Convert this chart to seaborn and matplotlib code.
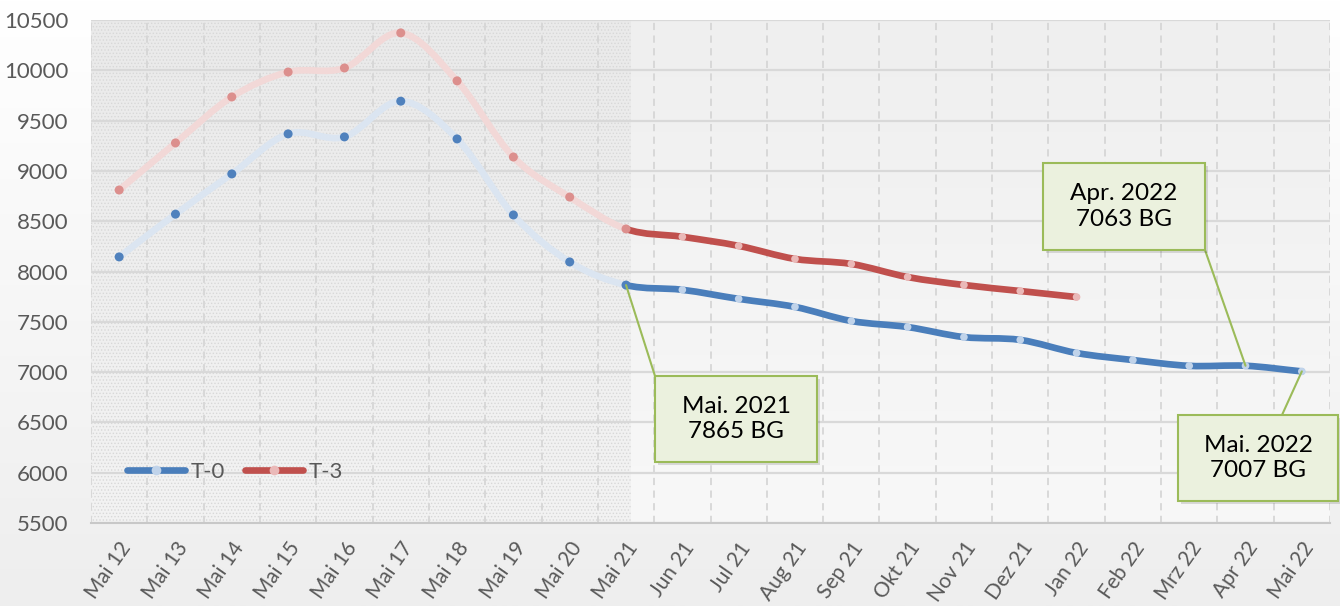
import numpy as np
import pandas as pd
import matplotlib
matplotlib.use("Agg")
import matplotlib.pyplot as plt
import seaborn as sns
from matplotlib.path import Path
from matplotlib.patches import PathPatch, Rectangle
from matplotlib.lines import Line2D
from matplotlib.colors import LinearSegmentedColormap

# --- Data ---
months = ["Mai 12", "Mai 13", "Mai 14", "Mai 15", "Mai 16", "Mai 17", "Mai 18",
          "Mai 19", "Mai 20", "Mai 21", "Jun 21", "Jul 21", "Aug 21", "Sep 21",
          "Okt 21", "Nov 21", "Dez 21", "Jan 22", "Feb 22", "Mrz 22", "Apr 22", "Mai 22"]
t0 = [8145, 8570, 8970, 9368, 9338, 9693, 9318, 8562, 8095, 7865, 7818, 7728,
      7648, 7508, 7448, 7348, 7320, 7190, 7120, 7062, 7063, 7007]
t3 = [8810, 9278, 9735, 9983, 10023, 10372, 9895, 9138, 8740, 8423, 8345, 8255,
      8125, 8075, 7945, 7866, 7806, 7746]
split_idx = 9  # Mai 21: history before, monthly values after

callouts = [("Mai. 2021\n7865 BG", 9, 7865),
            ("Apr. 2022\n7063 BG", 20, 7063),
            ("Mai. 2022\n7007 BG", 21, 7007)]

W, H = 1340, 606


def px(x, y):
    # figure pixel (from top-left) -> figure fraction
    return x / W, 1 - y / H


def smooth_segments(ys):
    # Catmull-Rom style bezier segments through the data points
    pts = np.column_stack([np.arange(len(ys)), ys]).astype(float)
    tang = np.zeros_like(pts)
    tang[1:-1] = (pts[2:] - pts[:-2]) / 2
    tang[0] = pts[1] - pts[0]
    tang[-1] = pts[-1] - pts[-2]
    return [[pts[i], pts[i] + tang[i] / 3, pts[i + 1] - tang[i + 1] / 3, pts[i + 1]]
            for i in range(len(pts) - 1)]


def to_path(segs):
    verts = [segs[0][0]]
    codes = [Path.MOVETO]
    for s in segs:
        verts += [s[1], s[2], s[3]]
        codes += [Path.CURVE4] * 3
    return Path(verts, codes)


sns.set_theme(style="white")
plt.rcParams['font.family'] = ['Lato', 'DejaVu Sans']
plt.rcParams['hatch.linewidth'] = 0.6

fig = plt.figure(figsize=(W / 100, H / 100), dpi=100)

# --- figure background gradient ---
grad = np.linspace(0, 1, 256).reshape(-1, 1)
bg = fig.add_axes([0, 0, 1, 1], zorder=-10)
bg.imshow(grad, aspect='auto', origin='upper', extent=[0, 1, 0, 1],
          cmap=LinearSegmentedColormap.from_list('bg', ['#ffffff', '#eeeeee']))
bg.axis('off')

l, b = px(91, 523)
r, t = px(1330, 20)
ax = fig.add_axes([l, b, r - l, t - b])
ax.set_facecolor('none')

# plot area gradient
ax.imshow(grad, aspect='auto', origin='upper', extent=[0, 1, 0, 1], transform=ax.transAxes,
          cmap=LinearSegmentedColormap.from_list('pa', ['#efefef', '#f8f8f8']), zorder=0)

# shaded history area with dotted texture
ax.axvspan(-0.5, split_idx + 0.09, facecolor='#000000', alpha=0.02, lw=0, zorder=0.5)
ax.axvspan(-0.5, split_idx + 0.09, facecolor='none', edgecolor='#d8d8d8', hatch='.....',
           lw=0, zorder=0.6)

# --- lines ---
series = [(t0, '#dbe5f1', '#4a7ebb', '#4f81bd', '#c0d3ea'),
          (t3, '#f2d8d7', '#c0504d', '#dc8f8d', '#eab9b8')]
for vals, pale, strong, mk_old, mk_new in series:
    segs = smooth_segments(vals)
    ax.add_patch(PathPatch(to_path(segs[:split_idx]), fill=False, edgecolor=pale, lw=4.8,
                           capstyle='round', joinstyle='round', zorder=3))
    ax.add_patch(PathPatch(to_path(segs[split_idx:]), fill=False, edgecolor=strong, lw=4.8,
                           capstyle='round', joinstyle='round', zorder=4))
    old = pd.DataFrame({'x': range(split_idx + 1), 'y': vals[:split_idx + 1]})
    new = pd.DataFrame({'x': range(split_idx + 1, len(vals)), 'y': vals[split_idx + 1:]})
    sns.scatterplot(data=old, x='x', y='y', color=mk_old, s=42, edgecolor='none', ax=ax, zorder=5)
    sns.scatterplot(data=new, x='x', y='y', color=mk_new, s=30, edgecolor='none', ax=ax, zorder=5)

# --- axes ---
ax.set_xlim(-0.5, len(months) - 0.5)
ax.set_ylim(5500, 10500)
ax.set_yticks(range(5500, 10501, 500))
ax.set_xticks(range(len(months)))
ax.set_xticklabels(months, rotation=55, ha='right', rotation_mode='anchor')
ax.set_xticks(np.arange(-0.5, len(months), 1), minor=True)
ax.set_xlabel('')
ax.set_ylabel('')
ax.tick_params(axis='y', length=0, pad=16, labelsize=16, labelcolor='#595959')
ax.tick_params(axis='x', which='major', length=0, pad=11, labelsize=15, labelcolor='#595959')
ax.tick_params(axis='x', which='minor', length=7, width=1.2, color='#c8c8c8', direction='out')
ax.yaxis.grid(True, color='#d9d9d9', lw=1.6, zorder=1)
ax.xaxis.grid(True, which='minor', color='#d6d6d6', lw=1.3, ls=(0, (4, 3)), zorder=1)
ax.set_axisbelow(True)
for side in ['top', 'left', 'right']:
    ax.spines[side].set_visible(False)
ax.spines['bottom'].set_color('#c8c8c8')
ax.spines['bottom'].set_linewidth(1.5)

# --- legend ---
handles = [Line2D([], [], color='#4a7ebb', lw=4.8, marker='o', markersize=7,
                  markerfacecolor='#c0d3ea', markeredgecolor='none'),
           Line2D([], [], color='#c0504d', lw=4.8, marker='o', markersize=7,
                  markerfacecolor='#eab9b8', markeredgecolor='none')]
ax.legend(handles, ['T-0', 'T-3'], loc='center left', bbox_to_anchor=(0.013, 0.101),
          ncol=2, frameon=False, fontsize=16, labelcolor='#595959', handlelength=2.6,
          handletextpad=0.25, columnspacing=0.9)

# --- callouts ---
boxes = [(655, 376, 817, 462, (655, 376)),
         (1043, 163, 1205, 250, (1205, 250)),
         (1178, 415, 1338, 501, (1282, 415))]
for (label, xi, yv), (x0, y0, x1, y1, anchor) in zip(callouts, boxes):
    ax.annotate('', xy=(xi, yv), xycoords='data', xytext=px(*anchor),
                textcoords='figure fraction', annotation_clip=False,
                arrowprops=dict(arrowstyle='-', color='#9bbb59', lw=1.5,
                                shrinkA=0, shrinkB=0), zorder=6)
    fx0, fy1 = px(x0, y1)
    fx1, fy0 = px(x1, y0)
    sx, sy = 3 / W, 3 / H
    fig.patches.append(Rectangle((fx0 + sx, fy1 - sy), fx1 - fx0, fy0 - fy1,
                                 transform=fig.transFigure, facecolor='#000000',
                                 alpha=0.12, lw=0, zorder=8))
    fig.patches.append(Rectangle((fx0, fy1), fx1 - fx0, fy0 - fy1, transform=fig.transFigure,
                                 facecolor='#ebf1de', edgecolor='#9bbb59', lw=1.5, zorder=9))
    fig.text((fx0 + fx1) / 2, (fy0 + fy1) / 2, label, ha='center', va='center',
             fontsize=17.5, color='#000000', linespacing=1.25, zorder=10)

fig.savefig('out.png', dpi=100)
